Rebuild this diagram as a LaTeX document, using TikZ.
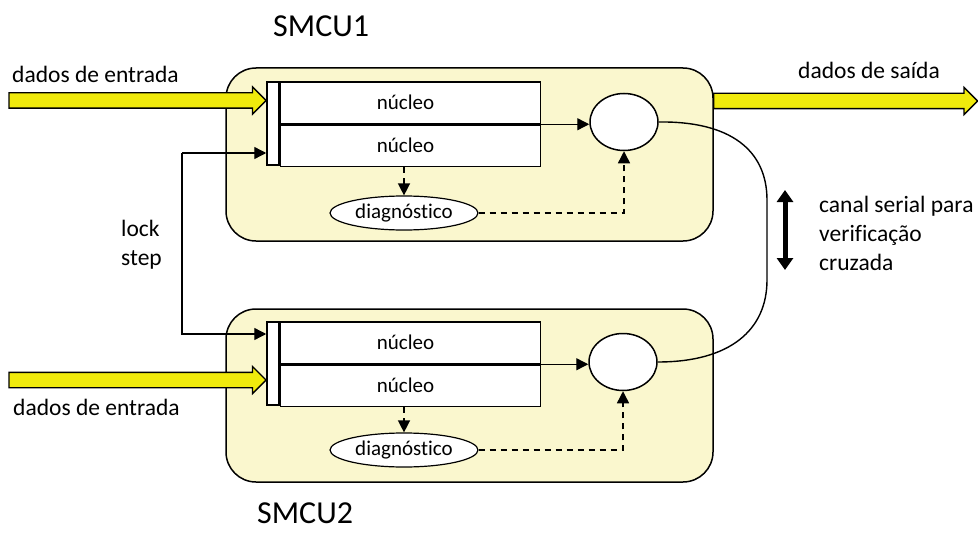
\documentclass[tikz,border=0pt]{standalone}
\usepackage{fontspec}
\setmainfont[Ligatures=NoCommon]{Carlito}
\usetikzlibrary{arrows.meta,shapes.arrows,shapes.geometric,positioning}

\definecolor{boxfill}{RGB}{250,247,206}
\definecolor{fatyellow}{RGB}{240,234,12}

\tikzset{
  smcu/.style={draw, line width=1.5pt, fill=boxfill, rounded corners=30pt,
    minimum width=487pt, minimum height=173pt, inner sep=0pt},
  corebar/.style={draw, line width=1.5pt, fill=white, minimum width=12pt,
    minimum height=83pt, inner sep=0pt},
  corebox/.style={draw, line width=1.5pt, fill=white, minimum width=260pt,
    minimum height=41.5pt, inner sep=0pt, font=\fontsize{21}{24}\selectfont},
  diagbox/.style={draw, ellipse, line width=1.2pt, fill=white, minimum width=148pt,
    minimum height=34pt, inner sep=0pt, font=\fontsize{21}{24}\selectfont},
  voter/.style={draw, ellipse, line width=1.5pt, fill=white, minimum width=68pt,
    minimum height=57pt, inner sep=0pt},
  fatarrow/.style={single arrow, draw, line width=1.3pt, fill=fatyellow,
    inner xsep=0pt, inner ysep=7pt, single arrow head extend=6pt,
    single arrow tip angle=90},
  conn/.style={line width=1.4pt, -{Triangle[length=12pt,width=12pt]}},
  dconn/.style={conn, dash pattern=on 6pt off 5pt},
  lbl/.style={font=\fontsize{23.5}{29}\selectfont, inner sep=0pt},
  title/.style={font=\fontsize{32}{36}\selectfont, inner sep=0pt},
}

\begin{document}
\begin{tikzpicture}[x=1pt, y=-1pt]
  \useasboundingbox (0,0) rectangle (978,535);

  % the two units
  \node[smcu] (smcuA) at (469.5,154.5) {};
  \node[smcu] (smcuB) at (469.5,395.5) {};

  % SMCU1
  \node[corebar] (barA) at (273,123.5) {};
  \node[corebox, anchor=north west] (coreA1) at (barA.north east) {\hspace*{-10pt}núcleo};
  \node[corebox, below=0pt of coreA1] (coreA2) {\hspace*{-10pt}núcleo};
  \node[diagbox] (diagA) at (404,213) {diagnóstico};
  \node[voter] (voterA) at (624,122) {};

  % SMCU2
  \node[corebar] (barB) at (273,363.5) {};
  \node[corebox, anchor=north west] (coreB1) at (barB.north east) {\hspace*{-10pt}núcleo};
  \node[corebox, below=0pt of coreB1] (coreB2) {\hspace*{-10pt}núcleo};
  \node[diagbox] (diagB) at (404,450) {diagnóstico};
  \node[voter] (voterB) at (623,362) {};

  % fat arrows in and out
  \node[fatarrow, minimum height=257pt, anchor=tip] (inA) at (267,100.5) {};
  \node[fatarrow, minimum height=257pt, anchor=tip] (inB) at (267,380) {};
  \node[fatarrow, minimum height=264pt, anchor=tail] (outA) at (713,101) {};

  % connectors
  \draw[conn] (coreA1.south east) -- (coreA1.south east -| voterA.west);
  \draw[conn] (coreB1.south east) -- (coreB1.south east -| voterB.west);
  \draw[dconn] (diagA.north |- coreA2.south) -- (diagA.north);
  \draw[dconn] (diagB.north |- coreB2.south) -- (diagB.north);
  \draw[dconn] (diagA.east) -| (voterA.south);
  \draw[dconn] (diagB.east) -| (voterB.south);

  % lock step
  \coordinate (lsA) at (182,153);
  \coordinate (lsB) at (182,334);
  \draw[conn] (lsA) -- (lsA -| barA.west);
  \draw[conn] (lsA) -- (lsB) -- (lsB -| barB.west);

  % serial channel
  \draw[line width=1.4pt] (voterA.east) .. controls (730,121) and (767,150) .. (767,200)
    -- (767,280) .. controls (767,330) and (730,362) .. (voterB.east);
  \coordinate (chTop) at (785,190);
  \coordinate (chBot) at (785,270);
  \draw[line width=5pt, {Triangle[length=12pt,width=16pt]}-{Triangle[length=12pt,width=16pt]}]
    (chTop) -- (chBot);

  % labels
  \node[title, anchor=base west] (tA) at (273,37) {SMCU1};
  \node[title, anchor=base west] (tB) at (257,523) {SMCU2};
  \node[lbl, anchor=base west] (lInA) at (12,83) {dados de entrada};
  \node[lbl, anchor=base west] (lInB) at (13,415) {dados de entrada};
  \node[lbl, anchor=base west] (lOut) at (798,78) {dados de saída};
  \node[lbl, anchor=base west, align=left] (lLock) at (121,265) {lock\\step};
  \node[lbl, anchor=base west, align=left] (lCh) at (819,270) {canal serial para\\verificação\\cruzada};
\end{tikzpicture}
\end{document}
